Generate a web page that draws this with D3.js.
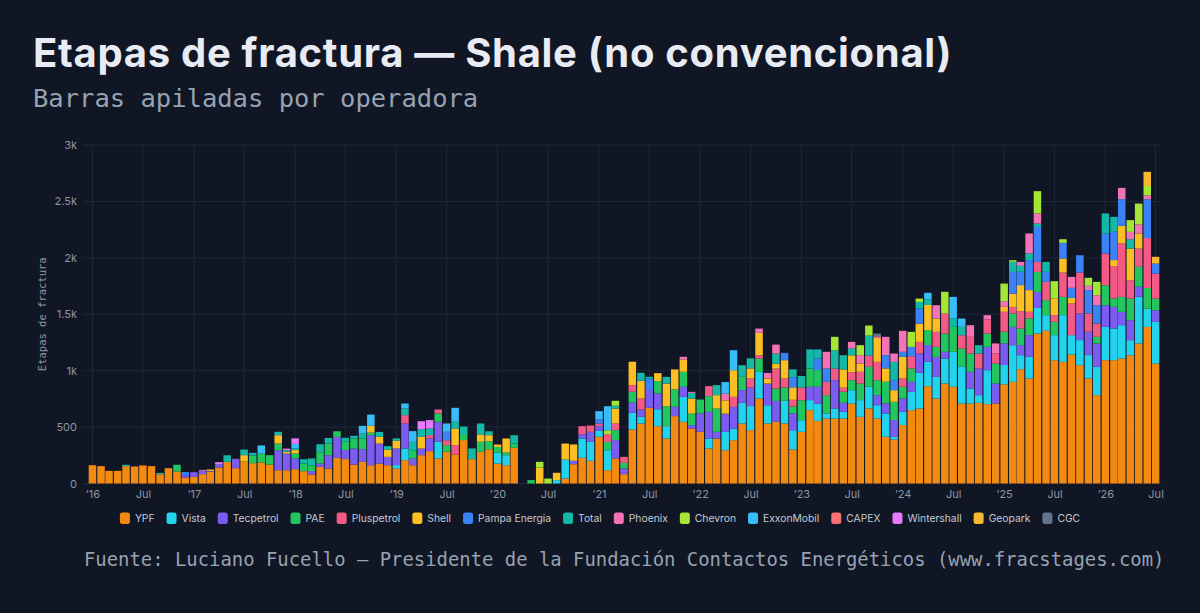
<!DOCTYPE html>
<html>
<head>
<meta charset="utf-8">
<script src="https://cdn.jsdelivr.net/npm/d3@7"></script>
<style>
  html, body { margin: 0; padding: 0; background: #101624; }
  svg { display: block; }
</style>
</head>
<body>
<svg id="chart"></svg>
<script>
// operators, bottom to top of each stack (same order as the legend)
var operators = ["YPF", "Vista", "Tecpetrol", "PAE", "Pluspetrol", "Shell", "Pampa Energia",
  "Total", "Phoenix", "Chevron", "ExxonMobil", "CAPEX", "Wintershall", "Geopark", "CGC"];
var operatorColors = ["#f28a12", "#22d3ee", "#7b5cf0", "#22c55e", "#f25a85", "#fbbf24", "#3b82f6",
  "#14b8a6", "#f472b6", "#a3e635", "#38bdf8", "#f87171", "#e879f9", "#f5b82e", "#64748b"];

// monthly frac stages, Jan 2016 .. Jul 2026 (one row per year)
var ypf = [
  162,154,112,112,154,151,160,154,82,136,106,53,
  59,83,106,142,192,136,195,180,186,168,118,118,
  127,109,80,148,133,227,216,168,192,162,177,162,
  133,207,162,251,287,222,281,257,385,216,281,304,
  177,162,316,0,0,0,0,0,44,171,228,201,
  414,118,222,83,479,532,671,508,399,597,546,487,
  458,310,399,295,384,532,473,753,532,546,532,301,
  458,650,555,576,576,576,709,591,665,576,414,390,
  518,650,665,863,753,886,857,709,709,715,703,709,
  879,901,1013,931,1329,1353,1093,1078,1143,1049,931,783,
  1093,1093,1108,1137,1241,1388,1063];
var vista = [
  0,0,0,0,0,0,0,0,0,0,0,0,
  0,0,0,0,0,0,0,0,0,0,0,0,
  0,0,0,0,0,0,0,0,0,0,0,0,
  30,103,0,0,0,148,0,0,0,0,0,0,
  97,89,0,0,0,0,0,30,168,0,171,168,
  53,177,0,0,148,59,0,150,109,0,222,0,
  0,89,0,162,103,183,213,236,162,0,201,171,
  103,89,154,45,89,59,118,148,192,118,207,24,
  118,162,316,216,192,222,310,325,133,68,301,0,
  171,325,124,192,227,139,222,414,171,222,207,251,
  295,281,295,133,414,162,369];
var tecpetrol = [
  0,0,0,0,0,0,0,0,0,0,0,20,
  41,30,6,30,0,83,0,0,0,0,177,148,
  95,0,30,30,118,186,80,142,112,266,177,74,
  148,222,59,59,112,177,0,0,0,0,0,0,
  0,0,0,0,0,0,0,0,0,30,38,89,
  41,0,162,50,89,65,157,140,0,83,89,30,
  162,236,59,162,192,112,165,0,192,186,0,150,
  0,118,148,0,251,80,0,0,0,89,89,148,
  118,89,171,148,177,59,0,0,148,236,207,177,
  192,162,89,192,142,0,0,0,0,236,207,207,
  192,192,118,177,89,0,103];
var pae = [
  0,0,0,0,0,0,0,0,0,0,60,0,
  0,0,0,0,0,0,0,68,80,83,59,0,
  44,68,50,100,103,50,74,89,95,24,0,0,
  0,0,74,0,0,74,59,0,45,0,89,71,
  50,24,38,0,30,0,0,0,0,0,0,0,
  0,74,89,50,97,0,0,110,177,154,133,103,
  124,139,207,0,0,124,0,118,0,109,118,60,
  177,162,148,162,0,98,89,148,177,133,192,162,
  103,118,0,133,89,162,222,162,162,0,118,177,
  103,118,148,148,177,133,118,162,0,0,0,59,
  177,74,133,192,177,183,103];
var pluspetrol = [
  0,0,0,0,0,0,0,0,0,0,0,0,
  0,0,0,0,0,0,0,0,0,0,0,0,
  0,0,0,0,0,0,0,0,0,0,0,0,
  0,74,0,0,30,35,44,83,0,0,0,0,
  0,0,0,0,0,0,0,0,0,0,71,56,
  24,68,59,53,59,97,0,0,0,0,0,0,
  0,89,0,0,89,0,80,30,0,177,80,60,
  112,0,0,118,103,36,70,103,100,162,0,0,
  74,109,103,0,133,177,0,118,148,133,124,89,
  177,59,154,59,89,162,59,216,281,363,162,118,
  281,287,473,162,162,443,222];
var shell = [
  0,0,0,0,0,0,0,0,0,0,0,0,
  0,0,12,0,0,0,56,0,0,0,74,15,
  30,0,0,0,0,0,0,0,0,59,59,65,
  68,0,0,103,0,0,0,148,0,0,65,53,
  21,124,0,0,0,142,0,65,142,145,0,0,
  0,0,133,0,207,157,0,70,201,177,109,133,
  0,0,118,118,236,0,89,198,44,44,162,110,
  0,0,0,0,0,162,150,74,0,213,118,103,
  192,0,162,222,118,0,0,0,0,0,0,0,
  44,118,230,192,0,0,148,124,50,0,0,0,
  0,53,157,281,133,0,0];
var pampa = [
  0,0,0,0,0,0,0,0,0,0,0,28,
  0,0,0,0,0,0,0,0,0,0,0,0,
  0,0,0,0,0,0,0,0,0,0,0,0,
  0,0,0,0,0,0,74,0,0,0,0,0,
  0,0,0,0,0,0,0,0,0,0,0,0,
  35,0,0,0,0,0,103,0,0,0,0,0,
  0,0,0,0,0,0,0,0,0,0,65,90,
  0,0,103,118,0,0,0,0,0,0,118,89,
  44,83,133,0,0,0,0,0,0,0,0,0,
  0,192,118,266,310,89,0,139,89,153,207,162,
  177,251,236,0,0,343,89];
var total = [
  0,0,0,0,12,0,0,0,12,0,0,0,
  0,0,0,0,58,0,50,24,0,0,30,14,
  15,38,62,70,50,0,35,24,44,0,44,30,
  21,59,74,68,59,0,0,59,75,95,97,35,
  0,0,74,0,0,0,0,0,0,0,0,0,
  0,0,24,0,0,71,15,0,59,0,0,50,
  0,0,89,0,0,97,89,0,0,89,0,70,
  103,169,80,0,162,126,60,0,177,0,0,162,
  0,0,59,50,0,0,74,74,0,74,0,0,
  0,89,53,59,30,88,0,0,0,0,0,0,
  178,132,0,83,0,0,0];
var phoenix = [
  0,0,0,0,0,0,0,0,0,0,0,0,
  0,8,0,0,0,0,0,0,0,0,0,0,
  0,0,0,0,0,0,0,0,0,0,0,0,
  0,0,0,0,0,0,0,0,0,0,0,0,
  0,0,0,0,0,0,0,0,0,0,0,0,
  0,0,0,0,0,0,0,0,0,0,24,9,
  0,0,0,59,0,0,0,38,50,80,0,0,
  0,0,0,148,0,0,59,73,0,14,162,74,
  186,0,0,0,118,0,0,0,103,0,39,89,
  50,0,35,177,89,0,0,0,97,0,38,89,
  0,0,100,65,80,35,0];
var chevron = [
  0,0,0,0,0,0,0,0,0,0,0,0,
  0,0,0,0,0,0,0,0,0,0,0,0,
  0,0,0,0,0,0,0,0,0,0,0,0,
  0,0,0,0,0,0,0,0,0,0,0,0,
  0,0,0,0,0,50,44,0,0,0,0,0,
  0,35,44,0,0,0,0,0,0,0,0,0,
  0,0,0,0,0,0,0,0,0,0,0,0,
  0,0,0,0,119,0,0,89,89,0,0,0,
  0,133,30,0,0,193,0,0,0,0,0,0,
  156,15,0,0,198,0,153,32,0,0,71,118,
  0,0,0,104,185,83,0];
var exxonmobil = [
  0,0,0,0,0,0,0,0,0,0,0,0,
  0,0,0,0,0,0,0,0,71,0,0,0,
  40,0,0,0,0,0,0,0,68,100,0,0,
  0,44,95,0,0,0,74,124,0,0,0,0,
  0,0,0,0,0,0,0,0,0,0,0,0,
  74,213,0,0,0,0,0,0,0,0,0,0,
  0,0,0,103,177,0,0,0,0,0,0,0,
  0,0,0,0,0,0,0,0,0,0,0,0,
  0,0,0,58,0,0,191,74,0,0,0,0,
  0,0,0,0,0,0,0,0,0,0,0,0,
  0,0,0,0,0,0,0];
var capex = [
  0,0,0,0,0,0,0,0,0,0,0,0,
  0,0,0,0,0,0,0,0,0,0,0,0,
  0,0,0,0,0,0,0,0,0,0,0,0,
  0,0,0,0,0,0,0,0,0,0,0,0,
  0,0,0,0,0,0,0,0,0,0,0,0,
  0,0,0,0,0,0,0,0,0,0,0,0,
  0,0,0,0,0,0,0,0,0,0,0,0,
  0,0,0,0,0,0,0,0,0,0,0,0,
  0,0,0,0,0,0,0,0,0,0,0,0,
  0,0,0,0,0,0,0,0,0,0,0,0,
  0,0,0,0,0,0,0];
var wintershall = [
  0,0,0,0,0,0,0,0,0,0,0,0,
  0,0,0,17,0,0,0,0,0,0,0,14,
  49,0,0,0,0,0,0,0,0,0,0,0,
  0,0,0,71,74,0,0,0,0,0,0,0,
  0,0,0,0,0,0,0,0,0,0,0,0,
  0,0,0,0,0,0,0,0,0,0,0,0,
  0,0,0,0,0,0,0,0,0,0,0,0,
  0,0,0,0,0,0,0,0,0,0,0,0,
  0,0,0,0,0,0,0,0,0,0,0,0,
  0,0,0,0,0,0,0,0,0,0,0,0,
  0,0,0,0,0,0,0];
var geopark = [
  0,0,0,0,0,0,0,0,0,0,0,0,
  0,0,0,0,0,0,0,0,0,0,0,0,
  0,0,0,0,0,0,0,0,0,0,0,0,
  0,0,0,0,0,0,0,0,0,0,0,0,
  0,0,0,0,0,0,0,0,0,0,0,0,
  0,0,0,0,0,0,0,0,0,0,0,0,
  0,0,0,0,0,0,0,0,0,0,0,0,
  0,0,0,0,0,0,0,0,0,0,0,0,
  0,0,0,0,0,0,0,0,0,0,0,0,
  0,0,0,0,0,0,0,0,0,0,0,0,
  0,0,0,0,0,125,60];
var cgc = [
  0,0,0,0,0,0,0,0,0,0,0,0,
  0,0,0,0,0,0,0,0,0,0,0,0,
  0,0,0,0,0,0,0,0,0,0,0,0,
  0,0,0,0,0,0,0,0,0,0,0,0,
  0,0,0,0,0,0,0,0,0,0,0,0,
  0,0,0,0,0,0,0,0,0,0,0,0,
  0,0,0,0,0,0,0,0,0,0,0,0,
  0,0,0,0,0,0,0,0,0,24,0,0,
  0,0,0,0,0,0,0,0,0,0,0,0,
  0,0,0,0,0,0,0,0,0,0,0,0,
  0,0,0,0,0,0,0];

var yTicks = [0, 500, 1000, 1500, 2000, 2500, 3000];

var seriesValues = [ypf, vista, tecpetrol, pae, pluspetrol, shell, pampa, total,
  phoenix, chevron, exxonmobil, capex, wintershall, geopark, cgc];

var width = 1200;
var height = 613;
var margin = { top: 145, right: 38, bottom: 129.5, left: 83 };

var svg = d3.select("#chart")
  .attr("width", width)
  .attr("height", height)
  .style("background", "#101624");

var months = d3.timeMonth.range(new Date(2016, 0, 1), new Date(2026, 7, 1));

var rows = months.map(function (m, i) {
  var row = { date: m };
  operators.forEach(function (op, k) {
    row[op] = seriesValues[k][i];
  });
  return row;
});

var stacked = d3.stack().keys(operators)(rows);

var xScale = d3.scaleTime()
  .domain([new Date(2015, 11, 16), new Date(2026, 6, 17)])
  .range([88, 1160]);

var yScale = d3.scaleLinear()
  .domain([0, 3000])
  .range([height - margin.bottom, margin.top]);

var monthWidth = xScale(new Date(2016, 1, 1)) - xScale(new Date(2016, 0, 1));
var barWidth = monthWidth - 1.1;

// grid
var xTicks = d3.timeMonth.every(6).range(new Date(2016, 0, 1), new Date(2026, 7, 1));

svg.append("g")
  .selectAll("line")
  .data(yTicks)
  .enter()
  .append("line")
  .attr("x1", margin.left)
  .attr("x2", width - margin.right)
  .attr("y1", function (d) { return yScale(d); })
  .attr("y2", function (d) { return yScale(d); })
  .style("stroke", "#1f2838")
  .style("stroke-width", 1);

svg.append("g")
  .selectAll("line")
  .data(xTicks)
  .enter()
  .append("line")
  .attr("x1", function (d) { return xScale(d); })
  .attr("x2", function (d) { return xScale(d); })
  .attr("y1", margin.top)
  .attr("y2", yScale(0))
  .style("stroke", "#1f2838")
  .style("stroke-width", 1);

// bars
svg.append("g")
  .selectAll("g")
  .data(stacked)
  .enter()
  .append("g")
  .style("fill", function (d, i) { return operatorColors[i]; })
  .selectAll("rect")
  .data(function (d) { return d.filter(function (p) { return p[1] > p[0]; }); })
  .enter()
  .append("rect")
  .attr("x", function (d) { return xScale(d.data.date) - barWidth / 2; })
  .attr("width", barWidth)
  .attr("y", function (d) { return yScale(d[1]); })
  .attr("height", function (d) { return yScale(d[0]) - yScale(d[1]); });

// axes
var yAxis = d3.axisLeft(yScale)
  .tickValues(yTicks)
  .tickSize(0)
  .tickPadding(6)
  .tickFormat(function (d) { return d >= 1000 ? (d / 1000) + "k" : d; });

var xAxis = d3.axisBottom(xScale)
  .tickValues(xTicks)
  .tickSize(0)
  .tickPadding(7)
  .tickFormat(function (d) {
    return d.getMonth() === 0 ? "\u2019" + d3.timeFormat("%y")(d) : "Jul";
  });

var gy = svg.append("g")
  .attr("transform", "translate(" + margin.left + ",0)")
  .call(yAxis);
var gx = svg.append("g")
  .attr("transform", "translate(0," + yScale(0) + ")")
  .call(xAxis);

[gx, gy].forEach(function (g) {
  g.select(".domain").remove();
  g.selectAll("text")
    .style("fill", "#8c96a6")
    .style("font-family", "Inter, 'Noto Sans', sans-serif")
    .style("font-size", "11px");
});

svg.append("text")
  .attr("transform", "translate(46," + yScale(1500) + ")rotate(-90)")
  .attr("text-anchor", "middle")
  .style("fill", "#8c96a6")
  .style("font-family", "'DejaVu Sans Mono', monospace")
  .style("font-size", "10.5px")
  .text("Etapas de fractura");

// titles
svg.append("text")
  .attr("x", 33)
  .attr("y", 67)
  .style("fill", "#e8ebf2")
  .style("font-family", "Inter, 'Noto Sans', sans-serif")
  .style("font-weight", "700")
  .style("font-size", "40px")
  .style("letter-spacing", "0.7px")
  .text("Etapas de fractura \u2014 Shale (no convencional)");

svg.append("text")
  .attr("x", 33)
  .attr("y", 107)
  .style("fill", "#97a2b2")
  .style("font-family", "'DejaVu Sans Mono', monospace")
  .style("font-size", "25.5px")
  .text("Barras apiladas por operadora");

svg.append("text")
  .attr("x", 84)
  .attr("y", 566)
  .style("fill", "#97a2b2")
  .style("font-family", "'DejaVu Sans Mono', monospace")
  .style("font-size", "18.9px")
  .text("Fuente: Luciano Fucello \u2014 Presidente de la Fundaci\u00f3n Contactos Energ\u00e9ticos (www.fracstages.com)");

// legend
var legend = svg.append("g");
var legendX = 0;
var legendGap = 12;
operators.forEach(function (op, i) {
  var item = legend.append("g").attr("transform", "translate(" + legendX + ",0)");
  item.append("rect")
    .attr("x", 0)
    .attr("y", -6)
    .attr("width", 10)
    .attr("height", 11.5)
    .attr("rx", 2.5)
    .style("fill", operatorColors[i]);
  var label = item.append("text")
    .attr("x", 15)
    .attr("y", 3.8)
    .style("fill", "#c3cad6")
    .style("font-family", "Inter, 'Noto Sans', sans-serif")
    .style("font-size", "10.3px")
    .text(op);
  legendX += 15 + label.node().getComputedTextLength() + legendGap;
});
legendX -= legendGap;
legend.attr("transform", "translate(" + (600 - legendX / 2) + ",518.5)");
</script>
</body>
</html>
